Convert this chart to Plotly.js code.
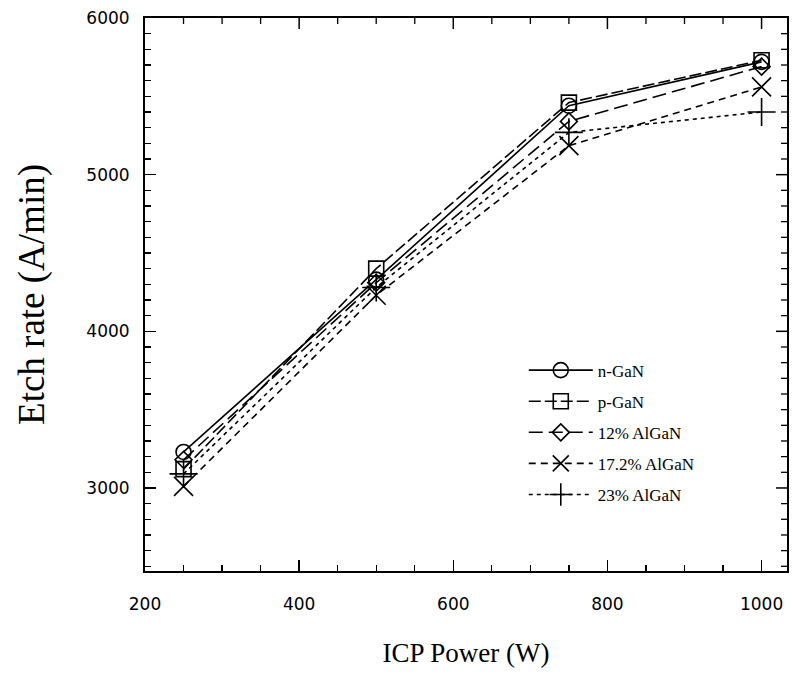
<!DOCTYPE html>
<html>
<head>
<meta charset="utf-8">
<script src="https://cdn.plot.ly/plotly-3.0.1.min.js"></script>
<style>html,body{margin:0;padding:0;background:#fff;}#chart{width:792px;height:674px;}</style>
</head>
<body>
<div id="chart"></div>
<script>
var power = [250, 500, 750, 1000];
var nGaN = [3230, 4330, 5440, 5720];
var pGaN = [3120, 4400, 5460, 5730];
var alGaN12 = [3180, 4310, 5340, 5690];
var alGaN172 = [3010, 4230, 5185, 5560];
var alGaN23 = [3090, 4280, 5270, 5400];
var seriesNames = ['n-GaN', 'p-GaN', '12% AlGaN', '17.2% AlGaN', '23% AlGaN'];
var xTicks = [200, 400, 600, 800, 1000];
var yTicks = [3000, 4000, 5000, 6000];

var series = [nGaN, pGaN, alGaN12, alGaN172, alGaN23];
var symbols = ['circle-open', 'square-open', 'diamond-open', 'x-thin-open', 'cross-thin-open'];
var sizes = [15, 15, 13, 19, 20];
var dashes = ['solid', '12px,4px', '14px,6px', '7px,5px', '4px,4px'];

var traces = series.map(function (s, i) {
  return {
    x: power, y: s, name: seriesNames[i], type: 'scatter', mode: 'lines+markers',
    legendgroup: 'g' + i,
    line: {color: '#000', width: 1.6, dash: dashes[i]},
    marker: {symbol: symbols[i], size: sizes[i], color: '#000', line: {color: '#000', width: 1.6}}
  };
});

var W = 792, H = 674;
var M = {l: 145, r: 5, t: 18, b: 103};
var plotW = W - M.l - M.r, plotH = H - M.t - M.b;
var xRange = [200, 1033];
var yRange = [2470, 6000];
var MAJ = 11, MIN = 6;

// mirrored inward ticks on the top and right edges (decoration following the axis tick spacing)
var shapes = [];
for (var xv = xRange[0] + 50; xv < xRange[1]; xv += 50) {
  var lenX = (xTicks.indexOf(xv) >= 0 ? MAJ : MIN) / plotH;
  shapes.push({type: 'line', xref: 'x', yref: 'paper', x0: xv, x1: xv, y0: 1, y1: 1 - lenX,
    line: {color: '#000', width: xTicks.indexOf(xv) >= 0 ? 1.5 : 1.3}, layer: 'above'});
}
for (var yv = 2500; yv < yRange[1]; yv += 100) {
  var lenY = (yTicks.indexOf(yv) >= 0 ? MAJ : MIN) / plotW;
  shapes.push({type: 'line', xref: 'paper', yref: 'y', x0: 1, x1: 1 - lenY, y0: yv, y1: yv,
    line: {color: '#000', width: yTicks.indexOf(yv) >= 0 ? 1.5 : 1.3}, layer: 'above'});
}

var tickFont = {family: 'DejaVu Sans, sans-serif', size: 17, color: '#000'};
var serif = 'Liberation Serif, Times New Roman, serif';

var layout = {
  width: W, height: H,
  margin: M,
  paper_bgcolor: '#fff', plot_bgcolor: '#fff',
  showlegend: true,
  shapes: shapes,
  legend: {
    x: 0.59, y: 0.395, xanchor: 'left', yanchor: 'top',
    bgcolor: 'rgba(0,0,0,0)', borderwidth: 0,
    font: {family: serif, size: 17, color: '#000'},
    itemwidth: 64, tracegroupgap: 6, traceorder: 'grouped'
  },
  xaxis: {
    range: xRange, tickvals: xTicks, ticktext: xTicks.map(String),
    ticks: 'inside', ticklen: MAJ, tickwidth: 1.5, tickcolor: '#000',
    minor: {dtick: 50, tick0: 200, ticks: 'inside', ticklen: MIN, tickwidth: 1.3, tickcolor: '#000'},
    showline: true, linecolor: '#000', linewidth: 2, mirror: true,
    showgrid: false, zeroline: false, ticklabelstandoff: 17,
    tickfont: tickFont,
    title: {text: 'ICP Power (W)', standoff: 30, font: {family: serif, size: 27, color: '#000'}}
  },
  yaxis: {
    range: yRange, tickvals: yTicks, ticktext: yTicks.map(String),
    ticks: 'inside', ticklen: MAJ, tickwidth: 1.5, tickcolor: '#000',
    minor: {dtick: 100, tick0: 0, ticks: 'inside', ticklen: MIN, tickwidth: 1.3, tickcolor: '#000'},
    showline: true, linecolor: '#000', linewidth: 2, mirror: true,
    showgrid: false, zeroline: false, ticklabelstandoff: 10,
    tickfont: tickFont,
    title: {text: 'Etch rate (A/min)', standoff: 30, font: {family: serif, size: 37, color: '#000'}}
  }
};

Plotly.newPlot('chart', traces, layout, {staticPlot: true, displayModeBar: false});
</script>
</body>
</html>
